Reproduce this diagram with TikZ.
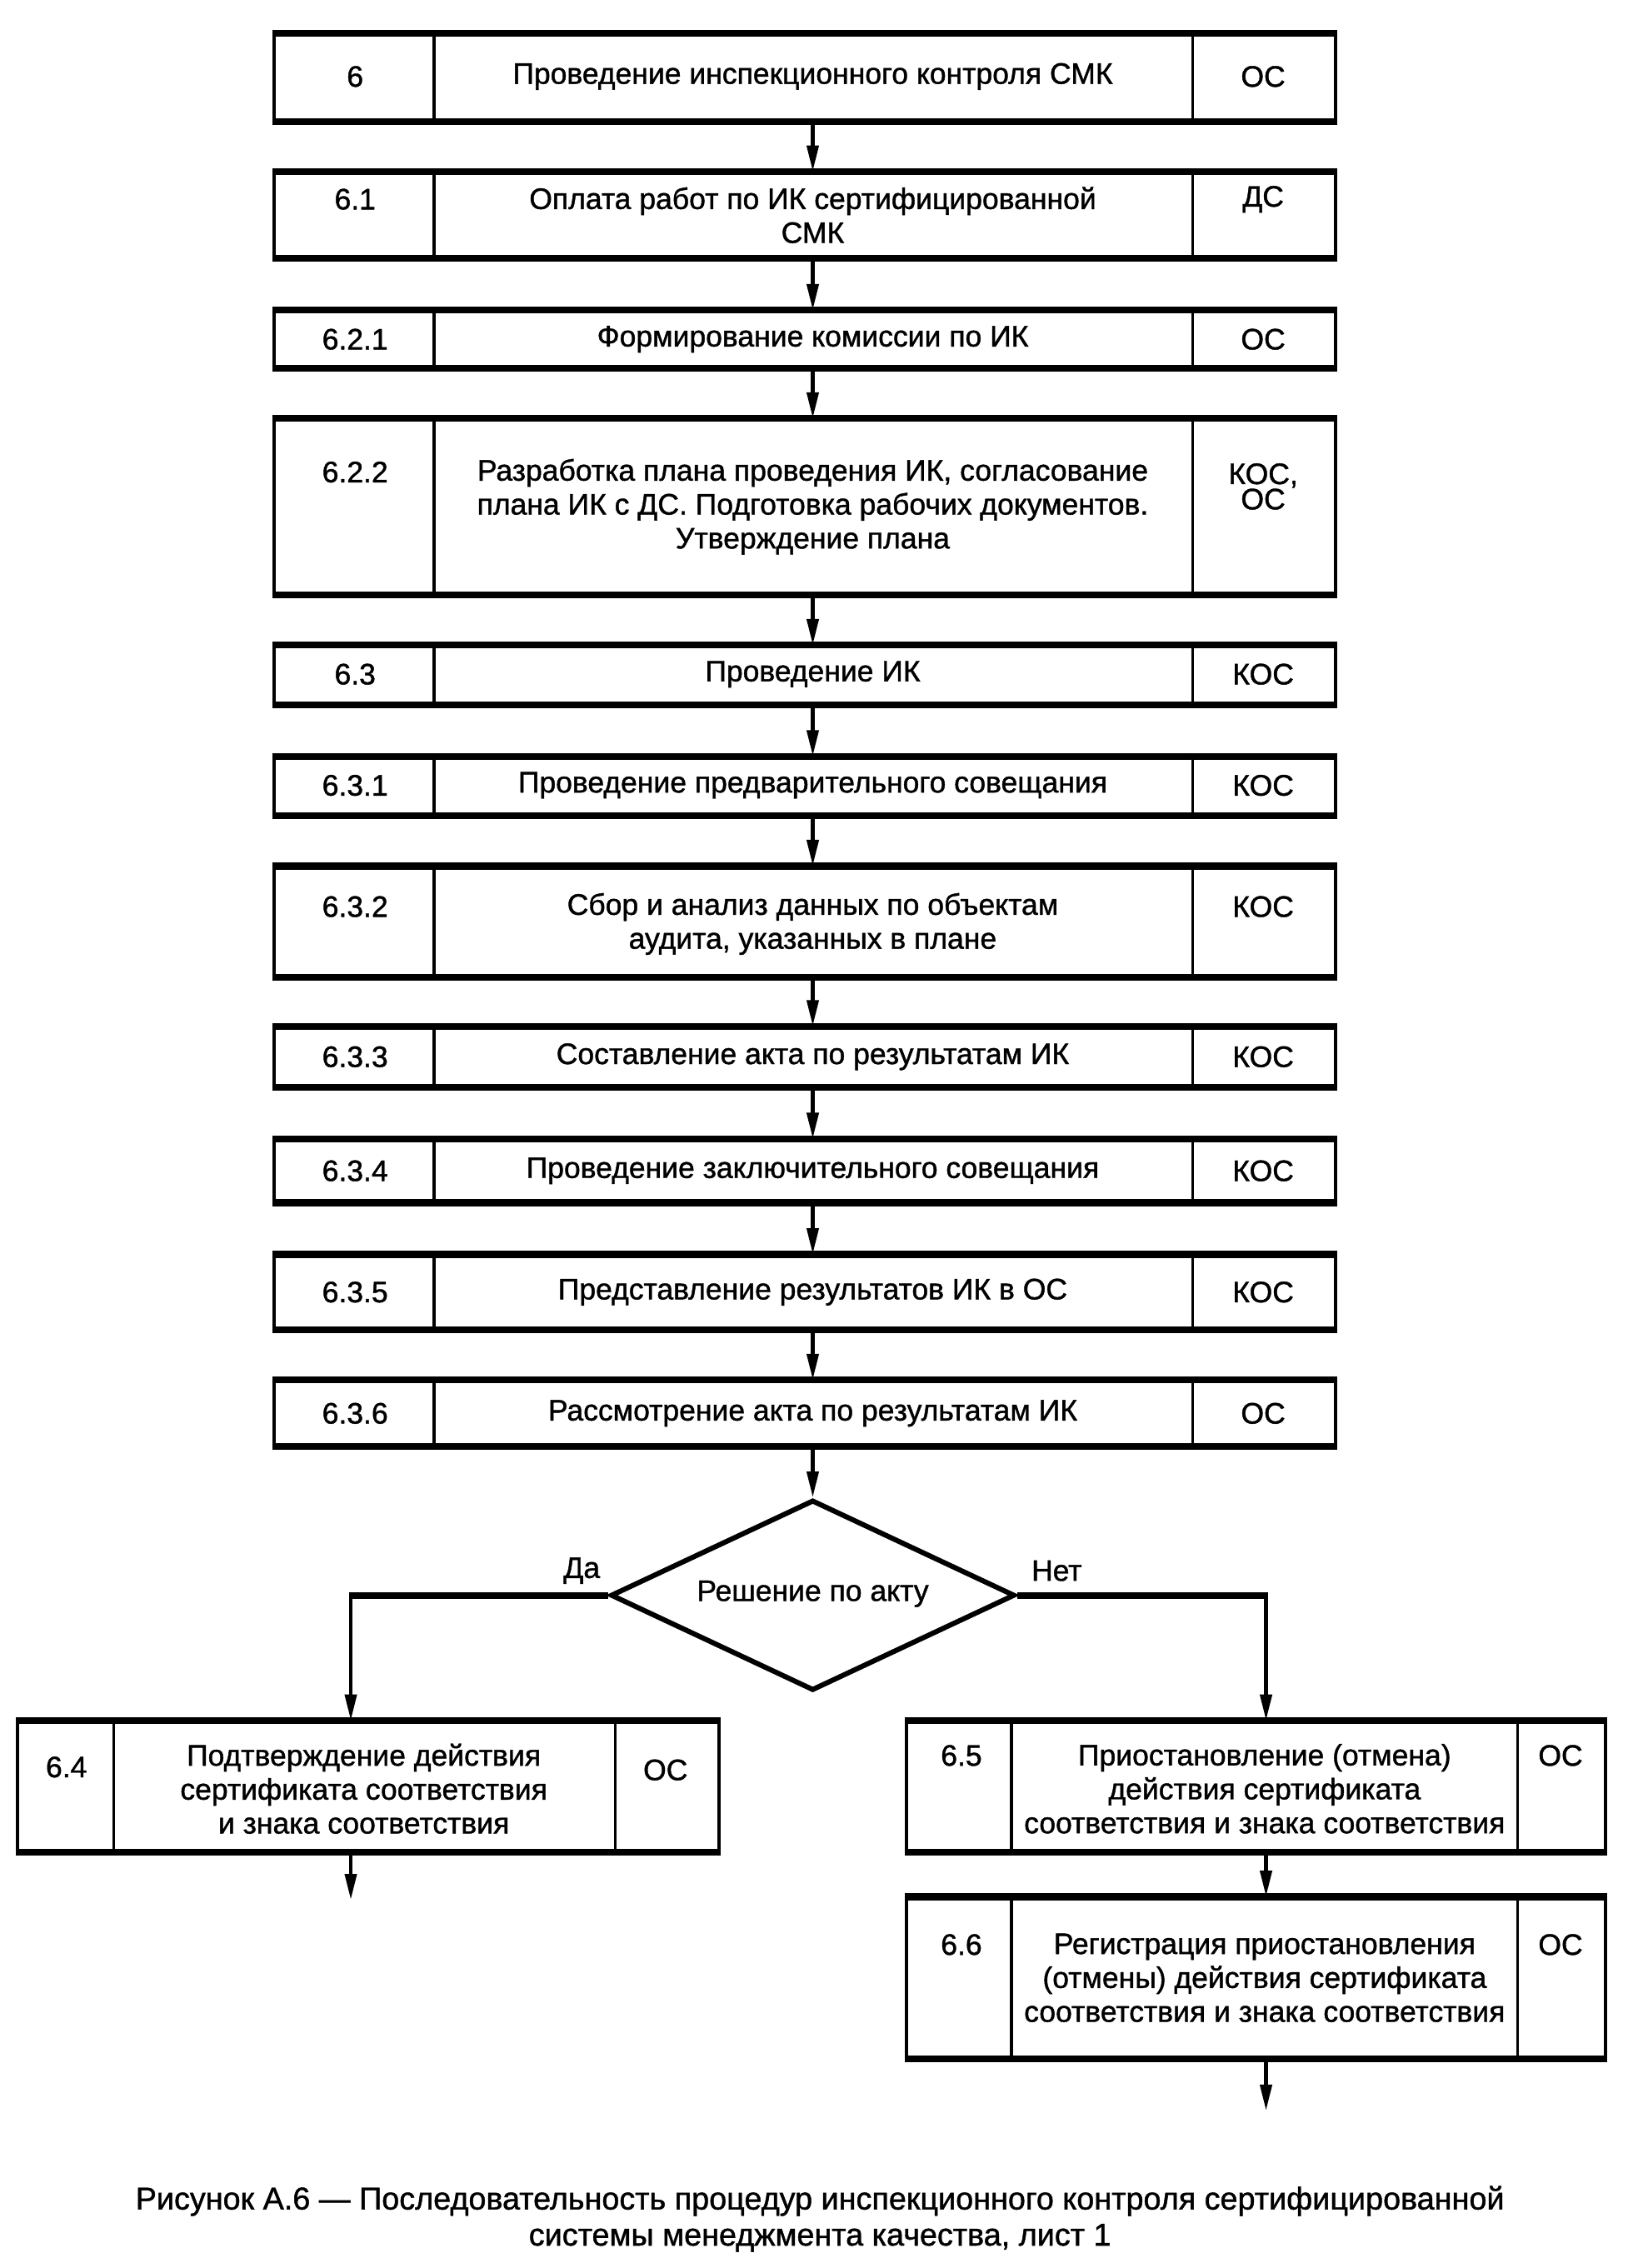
\documentclass[tikz,border=0pt]{standalone}
\usepackage{fontspec}
\setmainfont{Liberation Sans}[FakeBold=1.2]
\usetikzlibrary{shapes.geometric,arrows.meta}

\begin{document}
\begin{tikzpicture}[x=1pt,y=-1pt]
    \useasboundingbox (0,0) rectangle (1131,1571);
    \tikzstyle{every node}=[font=\fontsize{20.5}{23.5}\selectfont, inner sep=0pt, align=center, text=black]
    \tikzstyle{frame}=[rectangle, draw=black, line width=2.5pt, minimum width=735pt]
    \tikzstyle{rim}=[black, line width=4.5pt]
    \tikzstyle{sep}=[black, line width=2pt]
    \tikzstyle{arr}=[black, line width=2.5pt, -{Triangle[length=18pt,width=8pt]}]

    % main column of steps
    \node[frame, minimum height=59pt] (r6) at (557.5,53.5) {};
    \node[frame, minimum height=58pt] (r61) at (557.5,149) {};
    \node[frame, minimum height=38pt] (r621) at (557.5,235) {};
    \node[frame, minimum height=120pt] (r622) at (557.5,351) {};
    \node[frame, minimum height=39pt] (r63) at (557.5,467.5) {};
    \node[frame, minimum height=39pt] (r631) at (557.5,544.5) {};
    \node[frame, minimum height=75pt] (r632) at (557.5,638.5) {};
    \node[frame, minimum height=40pt] (r633) at (557.5,732) {};
    \node[frame, minimum height=42pt] (r634) at (557.5,811) {};
    \node[frame, minimum height=50pt] (r635) at (557.5,895) {};
    \node[frame, minimum height=44pt] (r636) at (557.5,979) {};

    \foreach \r in {r6,r61,r621,r622,r63,r631,r632,r633,r634,r635,r636} {
        \draw[sep] ([xshift=112pt]\r.north west) -- ([xshift=112pt]\r.south west);
        \draw[sep] ([xshift=-100pt]\r.north east) -- ([xshift=-100pt]\r.south east);
        \draw[rim] (\r.north west) -- (\r.north east) (\r.south west) -- (\r.south east);
    }

    \node (n6) at (246,53) {6};
    \node (t6) at (563,53) {Проведение инспекционного контроля СМК};
    \node (c6) at (875,53) {ОС};

    \node (n61) at (246,138) {6.1};
    \node (t61) at (563,149) {Оплата работ по ИК сертифицированной\\СМК};
    \node (c61) at (875,138) {ДС};

    \node (n621) at (246,235) {6.2.1};
    \node (t621) at (563,235) {Формирование комиссии по ИК};
    \node (c621) at (875,235) {ОС};

    \node (n622) at (246,327) {6.2.2};
    \node (t622) at (563,351) {Разработка плана проведения ИК, согласование\\плана ИК с ДС. Подготовка рабочих документов.\\Утверждение плана};
    \node (c622) at (875,337) {КОС,\\[-6pt]ОС};

    \node (n63) at (246,467) {6.3};
    \node (t63) at (563,467) {Проведение ИК};
    \node (c63) at (875,467) {КОС};

    \node (n631) at (246,544) {6.3.1};
    \node (t631) at (563,544) {Проведение предварительного совещания};
    \node (c631) at (875,544) {КОС};

    \node (n632) at (246,628) {6.3.2};
    \node (t632) at (563,640) {Сбор и анализ данных по объектам\\аудита, указанных в плане};
    \node (c632) at (875,628) {КОС};

    \node (n633) at (246,732) {6.3.3};
    \node (t633) at (563,732) {Составление акта по результатам ИК};
    \node (c633) at (875,732) {КОС};

    \node (n634) at (246,811) {6.3.4};
    \node (t634) at (563,811) {Проведение заключительного совещания};
    \node (c634) at (875,811) {КОС};

    \node (n635) at (246,895) {6.3.5};
    \node (t635) at (563,895) {Представление результатов ИК в ОС};
    \node (c635) at (875,895) {КОС};

    \node (n636) at (246,979) {6.3.6};
    \node (t636) at (563,979) {Рассмотрение акта по результатам ИК};
    \node (c636) at (875,979) {ОС};

    % decision
    \node[diamond, draw=black, line width=3.5pt, minimum width=280pt, minimum height=132pt] (dec) at (563,1105) {};
    \node (tdec) at (563,1104) {Решение по акту};
    \node (yes) at (403,1088) {Да};
    \node (no) at (732,1088) {Нет};

    % lower branches
    \node[frame, minimum width=486pt, minimum height=89pt] (r64) at (255,1237.5) {};
    \node[frame, minimum width=484pt, minimum height=89pt] (r65) at (870,1237.5) {};
    \node[frame, minimum width=484pt, minimum height=110pt] (r66) at (870,1370) {};

    \draw[sep] ([xshift=68pt]r64.north west) -- ([xshift=68pt]r64.south west);
    \draw[sep] ([xshift=-73pt]r64.north east) -- ([xshift=-73pt]r64.south east);
    \foreach \r in {r65,r66} {
        \draw[sep] ([xshift=74pt]\r.north west) -- ([xshift=74pt]\r.south west);
        \draw[sep] ([xshift=-62pt]\r.north east) -- ([xshift=-62pt]\r.south east);
    }
    \foreach \r in {r64,r65,r66}
        \draw[rim] (\r.north west) -- (\r.north east) (\r.south west) -- (\r.south east);

    \node (n64) at (46,1224) {6.4};
    \node (t64) at (252,1239) {Подтверждение действия\\сертификата соответствия\\и знака соответствия};
    \node (c64) at (461,1226) {ОС};

    \node (n65) at (666,1216) {6.5};
    \node (t65) at (876,1239) {Приостановление (отмена)\\действия сертификата\\соответствия и знака соответствия};
    \node (c65) at (1081,1216) {ОС};

    \node (n66) at (666,1347) {6.6};
    \node (t66) at (876,1370) {Регистрация приостановления\\(отмены) действия сертификата\\соответствия и знака соответствия};
    \node (c66) at (1081,1347) {ОС};

    % connectors
    \coordinate (axis) at (563,0);
    \foreach \a/\b in {r6/r61,r61/r621,r621/r622,r622/r63,r63/r631,r631/r632,r632/r633,r633/r634,r634/r635,r635/r636}
        \draw[arr] (axis |- \a.south) -- (axis |- \b.north);
    \draw[arr] (axis |- r636.south) -- (dec.north);

    \coordinate (ya) at (243,1105);
    \coordinate (na) at (877,1105);
    \draw[rim] (dec.west) -- (ya);
    \draw[rim] (dec.east) -- (na);
    \draw[arr] ([yshift=2pt]ya) -- (ya |- r64.north);
    \draw[arr] ([yshift=2pt]na) -- (na |- r65.north);
    \draw[arr] (na |- r65.south) -- (na |- r66.north);

    \coordinate (e64) at (243,1316);
    \coordinate (e66) at (877,1462);
    \draw[arr] (ya |- r64.south) -- (e64);
    \draw[arr] (na |- r66.south) -- (e66);

    % caption
    \node[font=\fontsize{21.8}{25}\selectfont] (cap) at (568,1537) {Рисунок А.6 — Последовательность процедур инспекционного контроля сертифицированной\\системы менеджмента качества, лист 1};
\end{tikzpicture}
\end{document}
